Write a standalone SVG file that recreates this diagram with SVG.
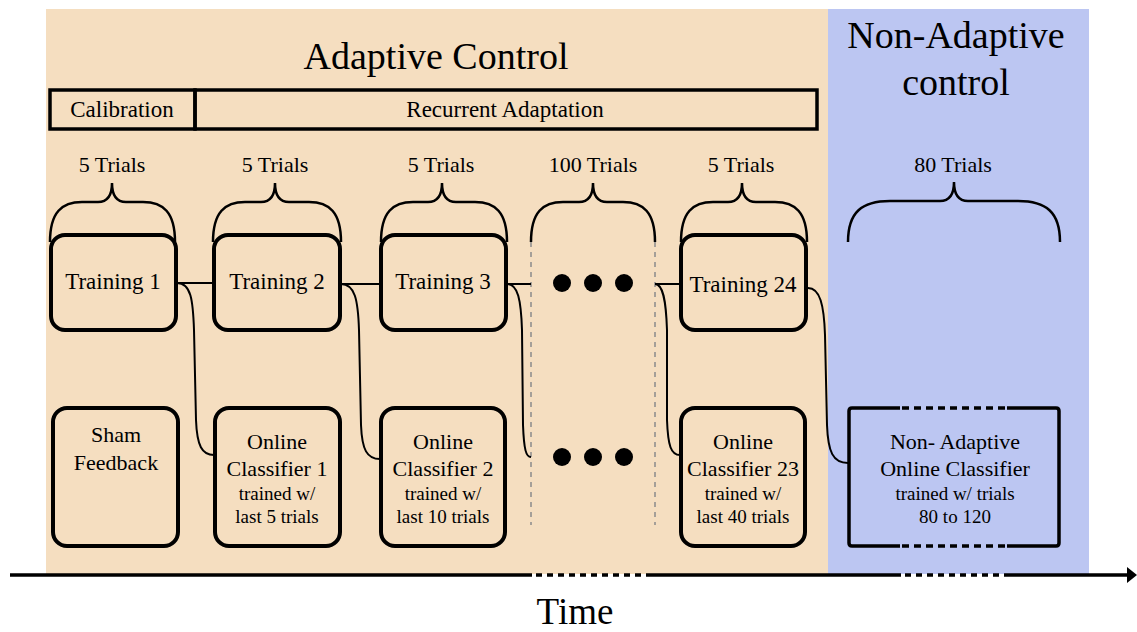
<svg xmlns="http://www.w3.org/2000/svg" width="1137" height="632" viewBox="0 0 1137 632" font-family="Liberation Serif, Tinos, Times New Roman, DejaVu Serif, serif">
<style>
text{font-family:'Liberation Serif','Tinos','Times New Roman','DejaVu Serif',serif;fill:#000;text-anchor:middle}
.box{fill:none;stroke:#000;stroke-width:4}
.bar{fill:none;stroke:#000;stroke-width:3.5}
.brace{fill:none;stroke:#000;stroke-width:2.5}
.conn{fill:none;stroke:#000;stroke-width:2}
.guide{fill:none;stroke:#8a8a8a;stroke-width:1.5;stroke-dasharray:5,5}
.t23{font-size:23px}
.t22{font-size:22px}
.t19{font-size:19px}
.dash{fill:none;stroke:#000;stroke-width:3.5;stroke-dasharray:7,5}
</style>
<rect x="0" y="0" width="1137" height="632" fill="#fff"/>
<g id="background">
<rect x="46" y="9" width="782" height="565" fill="#F5DEC0"/>
<rect x="828" y="9" width="261" height="565" fill="#BCC6F2"/>
</g>
<g id="titles">
<text x="436" y="69" style="font-size:38px">Adaptive Control</text>
<text x="956" y="48" style="font-size:38px">Non-Adaptive</text>
<text x="956" y="95" style="font-size:38px">control</text>
</g>
<g id="calibration">
<rect class="bar" x="50" y="90" width="145" height="39"/>
<text class="t23" x="122" y="117">Calibration</text>
</g>
<g id="recurrent-adaptation">
<rect class="bar" x="195" y="90" width="622" height="39"/>
<text class="t23" x="505" y="117">Recurrent Adaptation</text>
</g>
<g id="trial-labels">
<text class="t22" x="112" y="172">5 Trials</text>
<text class="t22" x="275" y="172">5 Trials</text>
<text class="t22" x="441" y="172">5 Trials</text>
<text class="t22" x="593" y="172">100 Trials</text>
<text class="t22" x="741" y="172">5 Trials</text>
<text class="t22" x="953" y="172">80 Trials</text>
</g>
<g id="braces">
<path class="brace" d="M50 242 C50 212 62 202 82 202 L98 202 C108 202 112 195 112 183 C112 195 116 202 126 202 L143 202 C163 202 175 212 175 242"/>
<path class="brace" d="M213 242 C213 212 225 202 245 202 L261 202 C271 202 275 195 275 183 C275 195 279 202 289 202 L309 202 C329 202 341 212 341 242"/>
<path class="brace" d="M381 242 C381 212 393 202 413 202 L428 202 C438 202 442 195 442 183 C442 195 446 202 456 202 L475 202 C495 202 507 212 507 242"/>
<path class="brace" d="M531 242 C531 212 543 202 563 202 L579 202 C589 202 593 195 593 183 C593 195 597 202 607 202 L623 202 C643 202 655 212 655 242"/>
<path class="brace" d="M681 242 C681 212 693 202 713 202 L728 202 C738 202 742 195 742 183 C742 195 746 202 756 202 L775 202 C795 202 807 212 807 242"/>
<path class="brace" d="M848 242 C848 212 862 201 890 201 L940 201 C950 201 954 194 954 182 C954 194 958 201 968 201 L1018 201 C1046 201 1060 212 1060 242"/>
</g>
<g id="guides">
<line class="guide" x1="531" y1="242" x2="531" y2="525"/>
<line class="guide" x1="655" y1="242" x2="655" y2="525"/>
</g>
<g id="connectors">
<line class="conn" x1="177" y1="283" x2="213" y2="283"/>
<path class="conn" d="M177 283 C191 283 193 300 194 330 L196 420 C197 446 202 455 214 455"/>
<line class="conn" x1="341" y1="284" x2="381" y2="284"/>
<path class="conn" d="M341 284 C355 284 358 300 359 330 L361 425 C362 450 367 459 380 459"/>
<line class="conn" x1="507" y1="284" x2="531" y2="284"/>
<path class="conn" d="M507 284 C518 284 521 300 522 330 L523 425 C524 450 526 457 531 457"/>
<line class="conn" x1="655" y1="284" x2="681" y2="284"/>
<path class="conn" d="M655 284 C663 284 666 300 667 330 L667 420 C668 446 671 455 680 455"/>
<path class="conn" d="M808 288 C820 288 824 305 825 335 L827 425 C828 452 833 463 848 463"/>
</g>
<g id="training-1">
<rect class="box" x="51" y="235" width="125" height="95" rx="14"/>
<text class="t23" x="113" y="289">Training 1</text>
</g>
<g id="training-2">
<rect class="box" x="214" y="235" width="126" height="95" rx="14"/>
<text class="t23" x="277" y="289">Training 2</text>
</g>
<g id="training-3">
<rect class="box" x="381" y="235" width="125" height="95" rx="14"/>
<text class="t23" x="443" y="289">Training 3</text>
</g>
<g id="dots-top">
<circle cx="562" cy="283" r="9"/>
<circle cx="593" cy="283" r="9"/>
<circle cx="624" cy="283" r="9"/>
</g>
<g id="training-24">
<rect class="box" x="681" y="235" width="125" height="95" rx="14"/>
<text class="t23" x="743" y="292">Training 24</text>
</g>
<g id="sham-feedback">
<rect class="box" x="53" y="408" width="125" height="138" rx="14"/>
<text class="t22" x="116" y="442">Sham</text>
<text class="t22" x="116" y="470">Feedback</text>
</g>
<g id="online-classifier-1">
<rect class="box" x="215" y="408" width="125" height="138" rx="14"/>
<text class="t22" x="277" y="449">Online</text>
<text class="t22" x="277" y="476">Classifier 1</text>
<text class="t19" x="277" y="500">trained w/</text>
<text class="t19" x="277" y="523">last 5 trials</text>
</g>
<g id="online-classifier-2">
<rect class="box" x="381" y="408" width="124" height="138" rx="14"/>
<text class="t22" x="443" y="449">Online</text>
<text class="t22" x="443" y="476">Classifier 2</text>
<text class="t19" x="443" y="500">trained w/</text>
<text class="t19" x="443" y="523">last 10 trials</text>
</g>
<g id="dots-bottom">
<circle cx="562" cy="457" r="9"/>
<circle cx="593" cy="457" r="9"/>
<circle cx="624" cy="457" r="9"/>
</g>
<g id="online-classifier-23">
<rect class="box" x="681" y="408" width="124" height="138" rx="14"/>
<text class="t22" x="743" y="449">Online</text>
<text class="t22" x="743" y="476">Classifier 23</text>
<text class="t19" x="743" y="500">trained w/</text>
<text class="t19" x="743" y="523">last 40 trials</text>
</g>
<g id="non-adaptive-classifier">
<path class="bar" d="M900 408 L852 408 Q849 408 849 411 L849 543 Q849 546 852 546 L900 546"/>
<path class="bar" d="M1007 408 L1056 408 Q1059 408 1059 411 L1059 543 Q1059 546 1056 546 L1007 546"/>
<line class="dash" x1="902" y1="408" x2="1007" y2="408"/>
<line class="dash" x1="902" y1="546" x2="1007" y2="546"/>
<text class="t22" x="955" y="449">Non- Adaptive</text>
<text class="t22" x="955" y="476">Online Classifier</text>
<text class="t19" x="955" y="500">trained w/ trials</text>
<text class="t19" x="955" y="523">80 to 120</text>
</g>
<g id="time-axis">
<line x1="10" y1="575" x2="532" y2="575" stroke="#000" stroke-width="3.5"/>
<line class="dash" x1="536" y1="575" x2="650" y2="575" style="stroke-dasharray:6,5"/>
<line x1="650" y1="575" x2="901" y2="575" stroke="#000" stroke-width="3.5"/>
<line class="dash" x1="905" y1="575" x2="1008" y2="575" style="stroke-dasharray:6,5"/>
<line x1="1008" y1="575" x2="1129" y2="575" stroke="#000" stroke-width="3.5"/>
<polygon points="1127,567 1137,575 1127,583" fill="#000"/>
<text x="575" y="624" style="font-size:37px">Time</text>
</g>
</svg>
